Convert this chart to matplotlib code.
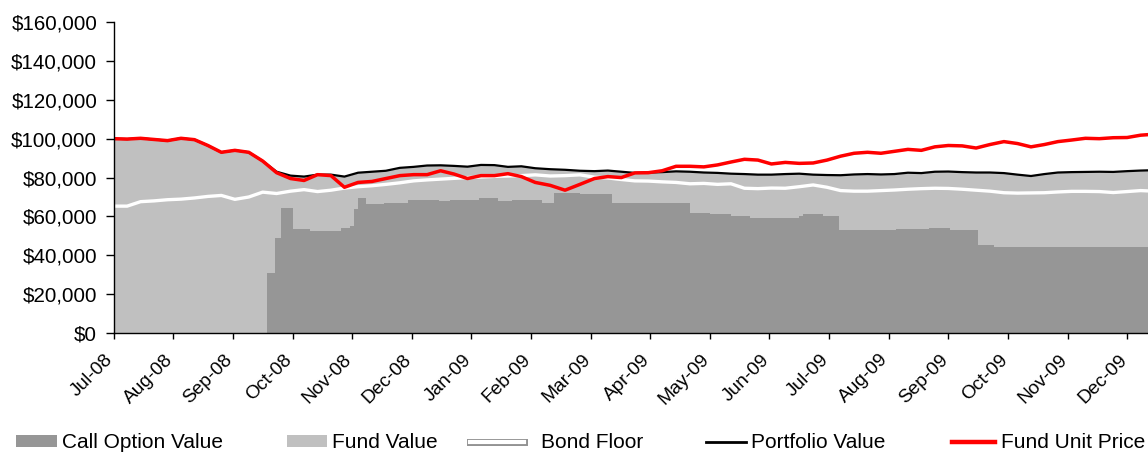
import matplotlib
matplotlib.use("Agg")
import matplotlib.pyplot as plt
import matplotlib.patheffects as pe
from matplotlib.lines import Line2D
from matplotlib.patches import Patch
from matplotlib.ticker import FuncFormatter
from matplotlib.transforms import ScaledTranslation
import numpy as np
import pandas as pd

plt.rcParams['font.family'] = ['Liberation Sans', 'DejaVu Sans']

# weekly observations, values in $ thousands
week_start = '2008-07-01'
fund_unit_price = [100.0, 99.8, 100.2, 99.6, 99.0, 100.2, 99.5, 96.5, 93.0, 94.0,
                   93.0, 88.5, 82.5, 79.5, 78.5, 81.5, 81.0, 75.0, 77.5, 78.0,
                   79.5, 81.0, 81.5, 81.5, 83.5, 81.8, 79.5, 81.0, 81.0, 82.0,
                   80.5, 77.5, 76.0, 73.5, 76.5, 79.5, 80.5, 80.0, 82.4, 82.5,
                   83.5, 85.8, 85.8, 85.5, 86.5, 88.0, 89.4, 89.0, 87.0, 87.8,
                   87.3, 87.5, 89.0, 91.0, 92.5, 93.0, 92.5, 93.5, 94.5, 94.0,
                   95.8, 96.5, 96.3, 95.2, 97.0, 98.5, 97.5, 95.8, 97.0, 98.5,
                   99.3, 100.2, 100.0, 100.5, 100.6, 101.8, 102.3]
portfolio_value = [100.0, 99.8, 100.2, 99.6, 99.0, 100.2, 99.5, 96.5, 93.0, 94.0,
                   93.0, 88.5, 83.0, 81.0, 80.5, 81.5, 81.5, 80.5, 82.5, 83.0,
                   83.5, 85.0, 85.5, 86.2, 86.3, 86.0, 85.6, 86.5, 86.4, 85.5,
                   85.8, 84.8, 84.3, 84.0, 83.5, 83.3, 83.6, 83.0, 82.4, 82.6,
                   82.8, 83.2, 83.0, 82.6, 82.4, 82.0, 81.8, 81.5, 81.5, 81.8,
                   82.0, 81.5, 81.3, 81.2, 81.6, 81.8, 81.6, 81.8, 82.5, 82.3,
                   83.0, 83.1, 82.8, 82.6, 82.6, 82.3, 81.5, 80.8, 81.8, 82.6,
                   82.8, 82.9, 83.0, 82.9, 83.3, 83.6, 83.8]
bond_floor = [65.3, 65.3, 67.6, 68.0, 68.6, 68.9, 69.5, 70.3, 70.8, 68.8,
              70.0, 72.5, 71.8, 73.0, 73.8, 72.8, 73.5, 74.6, 75.3, 75.8,
              76.5, 77.3, 78.3, 78.8, 79.2, 79.6, 80.0, 80.3, 80.6, 80.8,
              81.0, 81.4, 80.8, 81.0, 81.4, 80.2, 79.8, 79.0, 78.3, 78.2,
              77.8, 77.5, 76.8, 77.0, 76.5, 76.8, 74.5, 74.3, 74.6, 74.5,
              75.3, 76.2, 75.0, 73.3, 73.0, 73.0, 73.3, 73.6, 74.0, 74.3,
              74.5, 74.4, 74.0, 73.5, 73.0, 72.2, 72.0, 72.1, 72.2, 72.6,
              72.9, 72.9, 72.8, 72.3, 72.8, 73.3, 73.0]

# call option value changes only on rebalancing dates
call_dates = ['2008-07-01', '2008-09-18', '2008-09-22', '2008-09-25', '2008-10-01',
              '2008-10-10', '2008-10-18', '2008-10-26', '2008-10-31', '2008-11-02',
              '2008-11-04', '2008-11-08', '2008-11-17', '2008-11-29', '2008-12-15',
              '2008-12-21', '2009-01-05', '2009-01-15', '2009-01-22', '2009-02-06',
              '2009-02-12', '2009-02-24', '2009-03-12', '2009-03-21', '2009-04-21',
              '2009-05-01', '2009-05-12', '2009-05-22', '2009-06-16', '2009-06-18',
              '2009-06-28', '2009-07-06', '2009-07-27', '2009-08-05', '2009-08-22',
              '2009-09-02', '2009-09-16', '2009-09-24', '2009-12-31']
call_value = [0.0, 30.7, 48.8, 64.1, 53.6, 52.7, 52.5, 54.0, 55.0, 63.6,
              69.3, 66.2, 66.8, 68.2, 67.9, 68.5, 69.3, 67.9, 68.5, 67.0,
              72.1, 71.4, 67.0, 66.7, 61.9, 61.3, 60.2, 59.4, 60.0, 61.2,
              60.4, 52.9, 53.0, 53.3, 53.8, 53.2, 45.4, 44.4, 44.6]

series_names = ['Call Option Value', 'Fund Value', 'Bond Floor', 'Portfolio Value', 'Fund Unit Price']


def month_pos(dates):
    # months since Jul-08, each month the same width on the axis
    d = pd.DatetimeIndex(dates)
    return np.asarray((d.year - 2008) * 12 + d.month - 7 + (d.day - 1) / d.days_in_month)


weeks = pd.date_range(week_start, periods=len(fund_unit_price), freq='7D')
x = month_pos(weeks)
xc = month_pos(call_dates)
k = 1000.0
unit = np.array(fund_unit_price) * k
port = np.array(portfolio_value) * k
bond = np.array(bond_floor) * k
call = np.array(call_value) * k

fig = plt.figure(figsize=(11.48, 4.55), dpi=100)
ax = fig.add_axes([0.099, 0.268, 0.901, 0.6835])

ax.fill_between(x, 0, port, color='#c0c0c0', lw=0)
ax.fill_between(xc, 0, call, step='post', color='#969696', lw=0)
ax.plot(x, bond, color='white', lw=2.4)
ax.plot(x, port, color='black', lw=1.6)
ax.plot(x, unit, color='#ff0000', lw=2.5)

ax.set_xlim(0, 17.35)
ax.set_ylim(0, 160000)
ax.set_yticks(np.arange(0, 160001, 20000))
ax.yaxis.set_major_formatter(FuncFormatter(lambda v, p: '${:,.0f}'.format(v)))

# month labels sit a little left of and below their ticks, as in Excel
month_labels = pd.date_range('2008-07-01', periods=18, freq='MS').strftime('%b-%y')
ax.set_xticks(np.arange(18))
ax.set_xticklabels([])
lab_trans = ax.get_xaxis_transform() + ScaledTranslation(-9 / 100, -18 / 100, fig.dpi_scale_trans)
for i, lab in enumerate(month_labels):
    ax.text(i, 0, lab, transform=lab_trans, rotation=45, ha='right', va='top',
            rotation_mode='anchor', fontsize=13.8, clip_on=False)

for s in ['top', 'right']:
    ax.spines[s].set_visible(False)
for s in ['left', 'bottom']:
    ax.spines[s].set_linewidth(1.0)
ax.tick_params(axis='y', direction='out', length=5.8, width=1, labelsize=14.8, pad=6)
ax.tick_params(axis='x', direction='out', length=4.5, width=1)

handles = [
    Patch(facecolor='#969696', edgecolor='none'),
    Patch(facecolor='#c0c0c0', edgecolor='none'),
    Line2D([], [], color='white', lw=3,
           path_effects=[pe.Stroke(linewidth=5, foreground='#909090'), pe.Normal()]),
    Line2D([], [], color='black', lw=2),
    Line2D([], [], color='#ff0000', lw=3.2),
]
# legend entries sit at uneven spacing, so place each one separately
entry_left = [16, 287, 470, 706, 952]
entry_hlen = [1.95, 1.9, 2.6, 1.9, 2.05]
entry_pad = [0.25, 0.28, 0.8, 0.28, 0.28]
for h, lab, x0, hl, tp in zip(handles, series_names, entry_left, entry_hlen, entry_pad):
    fig.legend([h], [lab], loc='center left', bbox_to_anchor=(x0 / 1148, 1 - 443 / 455),
               frameon=False, fontsize=15, handlelength=hl, handleheight=0.55,
               handletextpad=tp, borderpad=0, borderaxespad=0)

fig.savefig('out.png', dpi=100)
